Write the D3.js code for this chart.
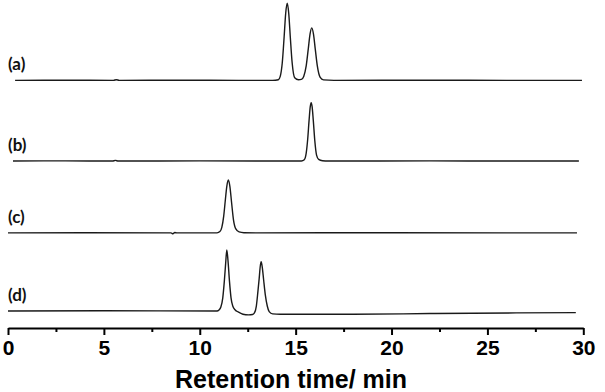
<!DOCTYPE html>
<html>
<head>
<meta charset="utf-8">
<script src="https://cdn.jsdelivr.net/npm/d3@7/dist/d3.min.js"></script>
<style>
  html, body { margin: 0; padding: 0; background: #fff; }
  svg { display: block; }
</style>
</head>
<body>
<svg id="chart" width="605" height="392"></svg>
<script>
// ---- data ----
const traceLabels = ["(a)", "(b)", "(c)", "(d)"];
// vertical offsets of each trace baseline (arbitrary intensity units)
const traceOffsets = [75.5, 50.9, 29.0, 5.2];

// [retention time (min), signal (a.u.)]
const traceA = [
  [0.37, 0], [3, 0.05], [5.5, 0], [5.65, 0.2], [5.8, 0], [9, 0.05], [12, 0], [13.8, 0],
  [14.1, 0.2], [14.2, 1.3], [14.3, 5.2], [14.4, 13.3], [14.48, 20.4], [14.56, 23.5],
  [14.64, 20.4], [14.72, 13.3], [14.82, 5.2], [14.95, 0.8], [15.15, 0.2], [15.3, 0.3],
  [15.42, 1.2], [15.55, 4.4], [15.66, 9.7], [15.75, 14.1], [15.84, 16.0], [15.93, 14.1],
  [16.02, 9.7], [16.13, 4.4], [16.28, 0.9], [16.45, 0.15], [17, 0], [22, 0.05], [26, 0], [29.93, 0]
];
const traceB = [
  [0.26, 0], [3, 0.05], [5.45, 0], [5.6, 0.2], [5.75, 0], [10, 0.05], [15.3, 0],
  [15.45, 0.4], [15.55, 2.4], [15.63, 6.8], [15.7, 12.4], [15.76, 16.5], [15.81, 17.8],
  [15.86, 16.5], [15.92, 12.4], [16.0, 6.1], [16.09, 1.8], [16.2, 0.5], [16.4, 0.1],
  [16.7, 0], [22, 0.05], [26, 0], [29.77, 0]
];
const traceC = [
  [0, 0], [4, 0.05], [8.5, 0], [8.6, -0.25], [8.7, 0.1], [8.8, 0], [10.9, 0],
  [11.05, 0.4], [11.15, 1.7], [11.25, 5.2], [11.33, 9.8], [11.41, 14.2], [11.49, 16.1],
  [11.57, 14.2], [11.66, 9.2], [11.76, 3.9], [11.88, 1.2], [12.05, 0.3], [12.3, 0.05],
  [13, 0], [20, 0.05], [26, 0], [29.67, 0]
];
const traceD = [
  [0, 0], [5, 0.05], [10.9, 0], [11.0, 0.3], [11.1, 1.2], [11.2, 4], [11.28, 9],
  [11.35, 14.5], [11.41, 18.6], [11.47, 15.5], [11.55, 9], [11.63, 4], [11.72, 1.5],
  [11.85, 0.3], [12.0, -0.3], [12.25, -1.0], [12.55, -1.2], [12.75, -1.1], [12.85, -0.6],
  [12.95, 1.5], [13.03, 5.8], [13.1, 10], [13.15, 13.4], [13.2, 15.0], [13.26, 13.3],
  [13.33, 9.5], [13.42, 4.8], [13.52, 1.5], [13.62, -0.2], [13.8, -0.9], [14.2, -1.0],
  [18, -1.0], [22, -0.8], [26.5, -0.6], [29.61, -0.5]
];
const traces = [traceA, traceB, traceC, traceD];

const majorTicks = [0, 5, 10, 15, 20, 25, 30];
const minorTicks = [2.5, 7.5, 12.5, 17.5, 22.5, 27.5];
const xTitle = "Retention time/ min";

// ---- drawing ----
const svg = d3.select("#chart");
const x = d3.scaleLinear().domain([0, 30]).range([8, 583.3]);
const y = d3.scaleLinear().domain([0, 100]).range([328, 0]);

const line = d3.line().curve(d3.curveMonotoneX);

traces.forEach((tr, i) => {
  const off = traceOffsets[i];
  line.x(d => x(d[0])).y(d => y(d[1] + off));
  svg.append("path")
    .attr("d", line(tr))
    .attr("fill", "none")
    .attr("stroke", "#1a1a1a")
    .attr("stroke-width", 1.4)
    .attr("stroke-linejoin", "round");
  svg.append("text")
    .attr("x", 8)
    .attr("y", y(off) - 10)
    .attr("font-family", "Lato, 'Open Sans', sans-serif")
    .attr("font-weight", "bold")
    .attr("font-size", 17)
    .attr("fill", "#111")
    .text(traceLabels[i]);
});

// x axis
const axisG = svg.append("g").attr("transform", `translate(0,${y(0)})`);
const axis = d3.axisBottom(x)
  .tickValues(majorTicks)
  .tickSize(7)
  .tickSizeOuter(0)
  .tickPadding(5)
  .tickFormat(d3.format("d"));
axisG.call(axis);
axisG.select(".domain").attr("stroke", "#000").attr("stroke-width", 2);
axisG.selectAll(".tick line").attr("stroke", "#000").attr("stroke-width", 2);
axisG.selectAll(".tick text")
  .attr("font-family", "'Liberation Sans', Arial, sans-serif")
  .attr("font-weight", "bold")
  .attr("font-size", 21)
  .attr("fill", "#000");

const minorAxis = d3.axisBottom(x).tickValues(minorTicks).tickSize(4).tickFormat("");
const minorG = svg.append("g").attr("transform", `translate(0,${y(0)})`).call(minorAxis);
minorG.select(".domain").remove();
minorG.selectAll(".tick line").attr("stroke", "#000").attr("stroke-width", 2);

svg.append("text")
  .attr("x", 291)
  .attr("y", 388)
  .attr("text-anchor", "middle")
  .attr("font-family", "'Liberation Sans', Arial, sans-serif")
  .attr("font-weight", "bold")
  .attr("font-size", 25)
  .attr("fill", "#000")
  .text(xTitle);
</script>
</body>
</html>
